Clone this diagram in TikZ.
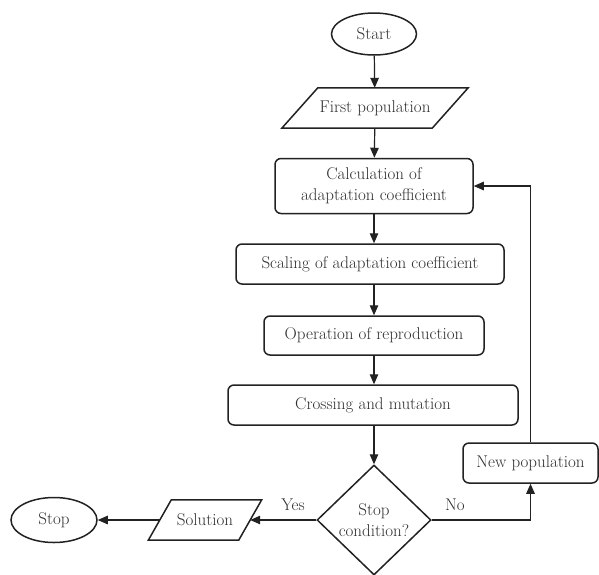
\documentclass[tikz,border=0pt]{standalone}
\usetikzlibrary{shapes.geometric,arrows.meta}
\definecolor{ln}{HTML}{222222}
\definecolor{txt}{HTML}{2E2E2E}
\begin{document}
\begin{tikzpicture}[x=1pt,y=-1pt,
  every node/.style={font=\fontsize{17}{21}\selectfont, text=txt},
  box/.style={draw=ln, line width=1.5pt, rounded corners=6pt, align=center, inner sep=0pt},
  term/.style={ellipse, draw=ln, line width=1.5pt, inner sep=0pt},
  iobox/.style={inner sep=0pt, minimum height=40pt},
  decision/.style={diamond, draw=ln, line width=1.5pt, inner sep=0pt, align=center,
    minimum width=114pt, minimum height=110pt},
  outline/.style={draw=ln, line width=1.5pt, line join=miter},
  flow/.style={draw=ln, line width=1.2pt, -{Triangle[length=10pt,width=8.5pt]}}
]
\useasboundingbox (0,0) rectangle (599,574);

% terminals
\node[term, minimum width=85pt, minimum height=42pt] (start) at (374,34) {Start};
\node[term, minimum width=86pt, minimum height=45pt] (stop) at (54,520) {Stop};

% input / output
\node[iobox, minimum width=150pt] (first) at (375,108) {First population};
\draw[outline] ([xshift=-18pt]first.south west) -- ([xshift=18pt]first.north west)
  -- ([xshift=18pt]first.north east) -- ([xshift=-18pt]first.south east) -- cycle;
\node[iobox, minimum width=90pt] (sol) at (205,520) {Solution};
\draw[outline] ([xshift=-11.5pt]sol.south west) -- ([xshift=11.5pt]sol.north west)
  -- ([xshift=11.5pt]sol.north east) -- ([xshift=-11.5pt]sol.south east) -- cycle;

% process steps
\node[box, minimum width=198pt, minimum height=55pt] (calc) at (374,186)
  {Calculation of\\adaptation coefficient};
\node[box, minimum width=268pt, minimum height=40pt] (scale) at (370,264)
  {Scaling of adaptation coefficient};
\node[box, minimum width=220pt, minimum height=39pt] (oper) at (374,335.5)
  {Operation of reproduction};
\node[box, minimum width=290pt, minimum height=40pt] (cross) at (373,405)
  {Crossing and mutation};
\node[box, minimum width=135pt, minimum height=40pt] (newpop) at (530.5,463)
  {New population};

% decision
\node[decision] (cond) at (374,520) {Stop\\condition?};

% main flow
\draw[flow] (start) -- (first);
\draw[flow] (first) -- (calc);
\draw[flow] (calc.south) -- (calc.south |- scale.north);
\draw[flow] (calc.south |- scale.south) -- (oper.north);
\draw[flow] (oper) -- (oper.south |- cross.north);
\draw[flow] (oper.south |- cross.south) -- (cond.north);

% exits of the decision
\draw[flow] (cond.west) -- (sol.east);
\node (yes) at (293,505) {Yes};
\draw[flow] (sol.west) -- (stop.east);
\draw[flow] (cond.east) -- (newpop.south |- cond.east) -- (newpop.south);
\node (no) at (455,505) {No};

% loop back
\draw[flow] (newpop.north) -- (newpop.north |- calc.east) -- (calc.east);
\end{tikzpicture}
\end{document}
